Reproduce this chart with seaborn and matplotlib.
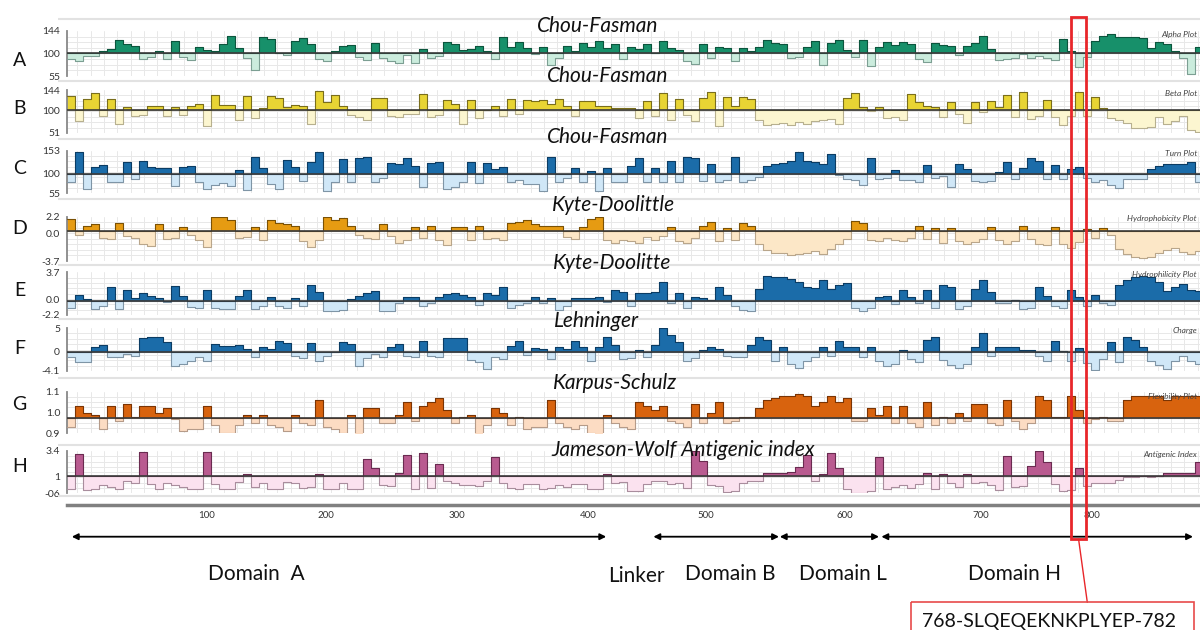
import numpy as np
import pandas as pd
import matplotlib
matplotlib.use("Agg")
import matplotlib.pyplot as plt
from matplotlib.patches import Rectangle
import seaborn as sns

# ---------------- data (one value per profile step) ----------------
alpha_plot = [88,84,95,94,104,108,127,118,114,88,92,104,88,124,92,86,112,106,104,118,134,110,90,66,132,128,100,96,124,130,118,88,84,104,114,116,92,86,120,90,84,80,96,
              80,108,90,94,122,118,106,108,114,104,88,132,112,122,110,98,112,76,90,114,104,120,112,124,110,118,88,112,108,118,100,124,110,106,84,78,118,90,112,110,84,110,104,112,126,120,118,90,92,112,
              124,76,120,126,106,92,126,74,112,122,116,122,118,88,82,120,116,114,96,114,120,134,109,86,88,90,98,90,94,90,86,128,104,72,92,124,134,138,132,132,132,130,110,122,118,104,90,58,112]
beta_plot = [132,78,124,138,88,124,70,108,88,90,110,110,88,108,90,110,114,66,134,112,112,80,132,84,104,132,126,108,112,110,70,142,118,134,110,90,86,80,126,126,88,86,92,
             92,136,86,90,122,114,70,122,84,100,110,88,124,92,122,120,122,114,124,110,88,120,120,110,110,106,106,104,84,120,88,138,80,124,90,78,126,140,66,128,110,128,124,80,68,70,72,68,74,70,
             76,80,82,70,126,138,108,98,108,84,86,80,136,118,110,108,86,118,92,72,118,96,120,108,134,86,140,82,88,122,86,68,88,140,88,128,106,84,80,72,62,62,64,86,70,76,88,58,54]
turn_plot = [82,150,66,116,120,80,82,126,88,130,116,114,114,72,116,118,82,66,74,78,72,108,62,138,114,76,64,132,116,84,128,150,60,80,134,82,136,138,80,90,124,122,136,
             118,70,124,126,66,70,80,128,78,124,112,116,82,86,76,76,60,138,82,90,114,80,106,60,114,80,82,118,136,80,114,80,130,82,138,136,84,122,80,86,138,80,86,92,118,122,124,130,150,130,
             126,122,146,96,88,86,74,136,88,90,108,86,86,82,120,90,94,70,122,112,84,82,84,104,128,88,114,136,130,88,120,88,112,116,90,80,86,74,68,88,88,88,110,118,122,122,122,128,80]
hydrophobicity = [1.9,-0.3,1.0,1.2,-0.7,-0.8,1.4,-0.4,-0.6,-1.4,-1.7,1.2,-0.8,-0.6,0.8,-0.3,-0.9,-1.8,2.1,2.2,1.7,-0.7,-0.5,0.8,-0.9,1.8,1.4,1.2,0.9,-1.0,-1.8,-0.9,2.1,1.8,2.0,1.0,-0.3,-0.7,-0.8,1.2,-0.4,-1.3,-0.9,
                  0.8,-0.6,0.9,-0.9,-1.6,0.8,0.8,-0.9,1.0,-0.8,-0.6,-0.9,1.3,1.5,1.7,1.2,1.0,0.9,0.9,-0.5,-0.8,0.8,1.9,2.2,-0.9,-1.3,-0.9,-1.0,-1.3,-0.5,-0.9,-0.4,0.8,-1.0,-1.3,-0.6,0.9,1.5,-1.0,0.7,-0.9,1.4,0.9,-1.4,-2.2,-2.6,-2.7,-2.9,-2.8,-2.6,
                  -2.4,-2.8,-2.1,-1.4,-0.8,1.6,1.4,-0.9,-1.0,-0.7,-0.9,-1.0,-0.6,0.9,-0.8,0.7,-1.3,0.7,-1.0,-1.4,-1.2,-0.8,0.8,-0.9,-1.4,-1.0,0.9,-0.8,-1.5,-1.6,0.8,-1.4,-2.0,-1.2,0.6,-0.7,0.7,-0.2,-2.1,-2.8,-3.2,-3.3,-3.2,-2.6,-2.2,-2.0,-2.5,-2.8,-2.4]
hydrophilicity = [-1.2,0.5,0.0,-1.4,-0.9,1.6,-1.4,1.2,0.2,0.8,0.4,0.2,-0.4,1.8,0.4,-1.1,-1.3,1.2,-1.2,-1.4,-1.4,0.4,1.2,-1.4,-1.0,0.3,-0.9,-1.2,0.1,-0.9,2.0,1.0,-1.7,-1.7,-1.5,0.0,0.4,0.9,1.1,-1.7,-1.6,-0.6,0.3,
                  0.3,-0.9,-0.6,0.3,0.7,0.8,0.6,0.3,-0.8,0.8,0.6,1.6,-1.2,-0.8,-0.6,0.3,-0.6,0.2,-1.5,-1.0,0.2,0.2,0.2,0.3,-0.4,1.2,1.0,-1.0,0.8,0.9,1.0,2.4,-0.6,0.8,-1.2,0.3,0.2,-0.1,1.6,0.5,-1.0,-1.5,-1.6,1.4,3.2,3.0,3.1,2.8,2.4,1.7,
                  1.5,2.6,1.4,2.0,2.2,-1.3,-1.6,-1.3,0.3,0.4,-0.7,1.2,0.3,-0.5,1.2,-1.2,2.0,1.6,-1.4,-0.9,1.4,2.6,1.0,-0.6,-0.5,-0.1,-1.4,-1.3,1.6,0.4,-0.9,-1.3,1.2,0.3,-1.0,0.6,-0.6,-0.8,1.9,2.6,3.1,3.2,3.1,2.3,1.1,1.7,2.1,1.3,1.1]
charge = [-1.2,-2.1,-2.1,0.9,1.5,-1.1,-1.1,-0.6,-1.0,2.8,3.0,3.0,2.0,-3.0,-2.7,-1.9,-1.2,-1.9,1.6,1.1,1.1,1.4,0.6,-1.1,0.9,0.5,2.2,1.8,-1.0,-1.4,1.9,-1.9,-0.9,0.0,2.1,1.6,-3.0,-1.3,-0.6,-1.1,1.0,1.6,-0.9,
          -1.1,2.2,-1.0,-1.1,2.8,2.9,2.8,-1.8,-2.2,-3.6,-1.2,-1.6,1.2,2.3,-0.8,0.8,0.5,-1.5,0.9,0.6,2.2,1.0,-1.9,0.9,3.1,1.5,-1.6,-1.4,0.3,-1.2,1.5,4.9,3.6,2.0,-1.9,-1.3,0.3,0.9,0.5,-0.9,-1.2,-1.2,1.5,3.0,2.4,-1.9,0.9,-2.6,-3.5,-2.0,
          -1.2,0.9,-1.0,2.2,0.9,0.9,-1.2,0.9,-2.0,-3.0,-2.6,0.4,-1.5,-2.3,2.5,3.0,-1.8,-2.8,-3.5,-2.6,0.9,4.0,-0.9,0.9,0.9,0.9,0.4,0.3,-0.9,-1.9,2.2,0.2,-1.9,0.8,-2.4,-3.9,-1.6,2.0,-2.2,3.1,2.5,1.0,-2.0,-2.8,-3.6,-1.9,-1.0,-2.0,-2.7]
flexibility = [0.93,1.03,1.00,0.99,0.92,1.03,0.96,1.04,0.98,1.03,1.03,1.00,1.02,0.97,0.91,0.92,0.92,1.03,0.94,0.90,0.90,0.94,0.99,0.95,0.99,0.94,0.93,0.91,0.99,0.95,0.94,1.06,0.93,0.92,0.90,0.99,0.88,1.02,1.02,0.95,0.95,0.99,1.05,
               0.96,1.03,1.05,1.07,1.01,0.95,0.98,0.99,0.89,0.94,1.02,1.00,0.94,0.98,0.92,0.93,0.93,1.06,0.95,0.93,0.92,0.94,0.90,0.88,0.99,0.95,0.93,0.92,1.05,1.03,1.01,1.03,0.96,0.95,0.93,1.04,0.95,1.00,1.05,0.95,0.96,0.98,0.98,1.02,1.06,1.07,1.08,1.08,1.09,1.08,
               1.03,1.05,1.08,1.05,1.07,0.96,0.96,1.02,0.99,1.03,0.95,1.03,0.95,0.93,1.05,0.94,0.98,0.95,1.00,0.96,1.04,1.04,0.95,0.94,1.06,0.96,0.92,0.95,1.08,1.06,0.98,0.98,1.08,1.01,0.95,0.97,0.98,0.96,0.96,1.06,1.08,1.08,1.08,1.08,1.06,1.08,1.08,1.08,1.08]
antigenic = [-0.2,3.1,-0.3,-0.2,0.2,0.0,-0.2,0.6,0.4,3.3,0.3,-0.2,0.4,0.2,0.0,-0.2,-0.2,3.3,0.3,-0.2,-0.2,0.5,1.2,0.0,0.4,-0.2,-0.2,0.5,0.4,-0.1,0.0,1.2,-0.2,-0.2,0.4,-0.2,-0.2,2.6,1.8,0.2,0.1,1.3,3.0,
             -0.2,3.2,-0.1,2.2,0.6,0.4,0.2,0.2,0.1,0.6,2.8,0.4,-0.1,-0.2,0.3,0.3,-0.2,-0.1,0.2,0.0,0.3,0.3,-0.2,-0.2,1.2,0.4,0.5,-0.4,-0.4,0.3,0.6,0.6,0.3,0.4,-0.1,3.4,2.5,0.2,0.1,-0.5,-0.4,0.4,0.6,0.6,1.3,1.3,1.3,1.4,1.9,3.0,
             0.6,1.2,3.2,1.8,-0.2,-0.6,-0.6,-0.4,2.8,-0.2,0.0,0.2,-0.1,0.3,1.3,-0.2,1.2,0.4,0.0,1.2,0.4,0.5,0.2,-0.3,2.9,0.0,0.1,2.0,3.4,2.4,0.3,-0.4,-0.3,1.8,0.1,0.4,0.4,0.4,0.7,0.95,0.9,1.05,0.95,1.05,1.3,1.3,1.3,1.3,2.4]

row_letters = ["A", "B", "C", "D", "E", "F", "G", "H"]
method_titles = ["Chou-Fasman", "Chou-Fasman", "Chou-Fasman", "Kyte-Doolittle", "Kyte-Doolitte",
                 "Lehninger", "Karpus-Schulz", "Jameson-Wolf Antigenic index"]
plot_tags = ["Alpha Plot", "Beta Plot", "Turn Plot", "Hydrophobicity Plot", "Hydrophilicity Plot",
             "Charge", "Flexibility Plot", "Antigenic Index"]
y_limits = [(55, 144), (51, 144), (55, 153), (-3.7, 2.2), (-2.2, 3.7), (-4.1, 5), (0.9, 1.1), (-0.6, 3.4)]
baselines = [100, 100, 100, 0.335, -0.27, 0, 0.972, 1.0]
y_tick_vals = [[55, 100, 144], [51, 100, 144], [55, 100, 153], [-3.7, 0.0, 2.2], [-2.2, 0.0, 3.7],
               [-4.1, 0, 5], [0.9, 1.0, 1.1], [-0.6, 1, 3.4]]
y_tick_labels = [["55", "100", "144"], ["51", "100", "144"], ["55", "100", "153"], ["-3.7", "0.0", "2.2"],
                 ["-2.2", "0.0", "3.7"], ["-4.1", "0", "5"], ["0.9", "1.0", "1.1"], ["-06", "1", "3.4"]]

x_tick_pos = [17.5, 32.3, 48.7, 65.1, 79.9, 97.2, 114.25, 128.1]
x_tick_labels = ["100", "200", "300", "400", "500", "600", "700", "800"]

arrow_starts = [0.6, 73.3, 89.1, 101.8]
arrow_ends = [67.4, 89.0, 101.5, 140.75]
domain_names = ["Domain  A", "Linker", "Domain B", "Domain L", "Domain H"]
domain_label_x = [23.7, 71.2, 82.9, 97.0, 118.5]

highlight_cols = (125.5, 127.4)
highlight_label = "768-SLQEQEKNKPLYEP-782"

series = [alpha_plot, beta_plot, turn_plot, hydrophobicity, hydrophilicity, charge, flexibility, antigenic]

# ---------------- styling / layout ----------------
pos_fill = ["#17906a", "#e8d434", "#1b6ca9", "#e69b12", "#1b6ca9", "#1b6ca9", "#d8630e", "#b95b90"]
neg_fill = ["#cbecdd", "#fcf6d0", "#d0e7f7", "#fce7c7", "#d0e7f7", "#d0e7f7", "#fcdcc3", "#fbe2ef"]
pos_line = ["#0c553d", "#7a6e1c", "#0b3c63", "#7a5105", "#0b3c63", "#0b3c63", "#7a3404", "#6a2b50"]
neg_line = ["#7c9f93", "#b7b08f", "#7f95a6", "#b9a68b", "#7f95a6", "#7f95a6", "#b59b89", "#a98d9d"]
panel_top = [31, 90, 150.7, 216.7, 272.3, 328, 391.7, 451]
panel_bot = [76, 133, 193.3, 261, 315, 371, 433.3, 493.3]
title_xy = [(598, 26), (608, 76), (608, 137), (614, 205), (612, 263), (597, 321), (615, 383), (683, 450)]
letter_y = [60, 109, 169, 229, 291, 349, 405, 466]
tag_y = [35, 93, 154, 218, 275, 330, 397, 454]

sns.set_theme(style="white")
plt.rcParams["font.family"] = ["Lato", "DejaVu Sans"]

W, H = 1200, 630
fig = plt.figure(figsize=(W / 100, H / 100), dpi=100)
fig.patch.set_facecolor("white")
X0, CW = 67, 8
N = len(alpha_plot)
xs = np.arange(N + 1)

for i, vals in enumerate(series):
    top, bot = panel_top[i], panel_bot[i]
    ax = fig.add_axes([X0 / W, 1 - bot / H, N * CW / W, (bot - top) / H])
    v = np.asarray(vals, float)
    vv = np.append(v, v[-1])
    b = baselines[i]
    up = np.maximum(vv, b)
    dn = np.minimum(vv, b)
    ax.fill_between(xs, b, up, step="post", color=pos_fill[i], lw=0, zorder=2)
    ax.fill_between(xs, b, dn, step="post", color=neg_fill[i], lw=0, zorder=2)
    df = pd.DataFrame({"x": xs, "up": up, "dn": dn})
    sns.lineplot(data=df, x="x", y="dn", ax=ax, color=neg_line[i], lw=0.8,
                 drawstyle="steps-post", estimator=None, zorder=3)
    sns.lineplot(data=df, x="x", y="up", ax=ax, color=pos_line[i], lw=0.8,
                 drawstyle="steps-post", estimator=None, zorder=3)
    ax.axhline(b, color="#3a3a3a", lw=1.2, zorder=4)
    ylo, yhi = y_limits[i]
    ax.set_xlim(0, N)
    ax.set_ylim(ylo, yhi)
    ax.set_xlabel("")
    ax.set_ylabel("")
    ax.set_xticks([])
    ax.set_xticks(np.arange(1.3, N, 1.667), minor=True)
    ax.set_yticks(y_tick_vals[i], y_tick_labels[i])
    ax.set_yticks(np.linspace(ylo, yhi, 9), minor=True)
    ax.grid(False)
    ax.grid(which="minor", color="#e8e8e8", lw=0.7)
    ax.set_axisbelow(True)
    ax.tick_params(which="minor", length=0)
    ax.tick_params(axis="y", which="major", length=3, width=1, color="#777777",
                   labelsize=7.5, pad=2, labelcolor="#333333")
    for s in ["top", "right", "bottom"]:
        ax.spines[s].set_visible(False)
    ax.spines["left"].set_color("#888888")
    ax.spines["left"].set_linewidth(1.3)
    ax.set_facecolor("white")

    tx, ty = title_xy[i]
    fig.text(tx / W, 1 - ty / H, method_titles[i], ha="center", va="center",
             fontsize=15, style="italic", color="#111111", zorder=10)
    fig.text(19.5 / W, 1 - letter_y[i] / H, row_letters[i], ha="center", va="center",
             fontsize=14, color="#111111")
    fig.text(1197 / W, 1 - tag_y[i] / H, plot_tags[i], ha="right", va="center",
             fontsize=6, style="italic", color="#444444", zorder=10)

# bottom position axis
axb = fig.add_axes([X0 / W, 1 - 505 / H, N * CW / W, 8 / H])
axb.set_facecolor("none")
axb.set_xlim(0, N)
axb.set_ylim(0, 1)
axb.set_yticks([])
axb.set_xticks(x_tick_pos, x_tick_labels)
axb.tick_params(axis="x", length=0, labelsize=7, pad=4, labelcolor="#333333")
for s in ["top", "right", "left"]:
    axb.spines[s].set_visible(False)
axb.spines["bottom"].set_color("#808080")
axb.spines["bottom"].set_linewidth(2.5)

# overlay in pixel coordinates for annotations
ov = fig.add_axes([0, 0, 1, 1], facecolor="none")
ov.set_xlim(0, W)
ov.set_ylim(H, 0)
ov.axis("off")

def colpx(c):
    return X0 + CW * c

ov.hlines([19, 81, 139, 199, 265, 319, 378, 445, 496], 58, 1200, color="#e2e2e2", lw=1.5, zorder=0)

for s0, s1 in zip(arrow_starts, arrow_ends):
    ov.annotate("", xy=(colpx(s1), 536.7), xytext=(colpx(s0), 536.7),
                arrowprops=dict(arrowstyle="<|-|>", color="black", lw=1.3,
                                mutation_scale=9, shrinkA=0, shrinkB=0))
for name, cx in zip(domain_names, domain_label_x):
    yy = 576 if name == "Linker" else 574
    ov.text(colpx(cx), yy, name, ha="center", va="center", fontsize=15, color="#111111")

hx0, hx1 = colpx(highlight_cols[0]), colpx(highlight_cols[1])
ov.add_patch(Rectangle((hx0, 17.3), hx1 - hx0, 539.3 - 17.3, fill=False, ec="#e8262a", lw=2, zorder=20))
ov.plot([(hx0 + hx1) / 2, 1087.3], [539.3, 602.3], color="#e8262a", lw=1, zorder=20)
ov.add_patch(Rectangle((911, 602.3), 1194.3 - 911, 40, fill=False, ec="#e84a4a", lw=1.2, zorder=20, clip_on=False))
ov.text(921.7, 621, highlight_label, ha="left", va="center", fontsize=14, color="#111111", zorder=21)

fig.savefig("out.png", dpi=100, facecolor="white")
